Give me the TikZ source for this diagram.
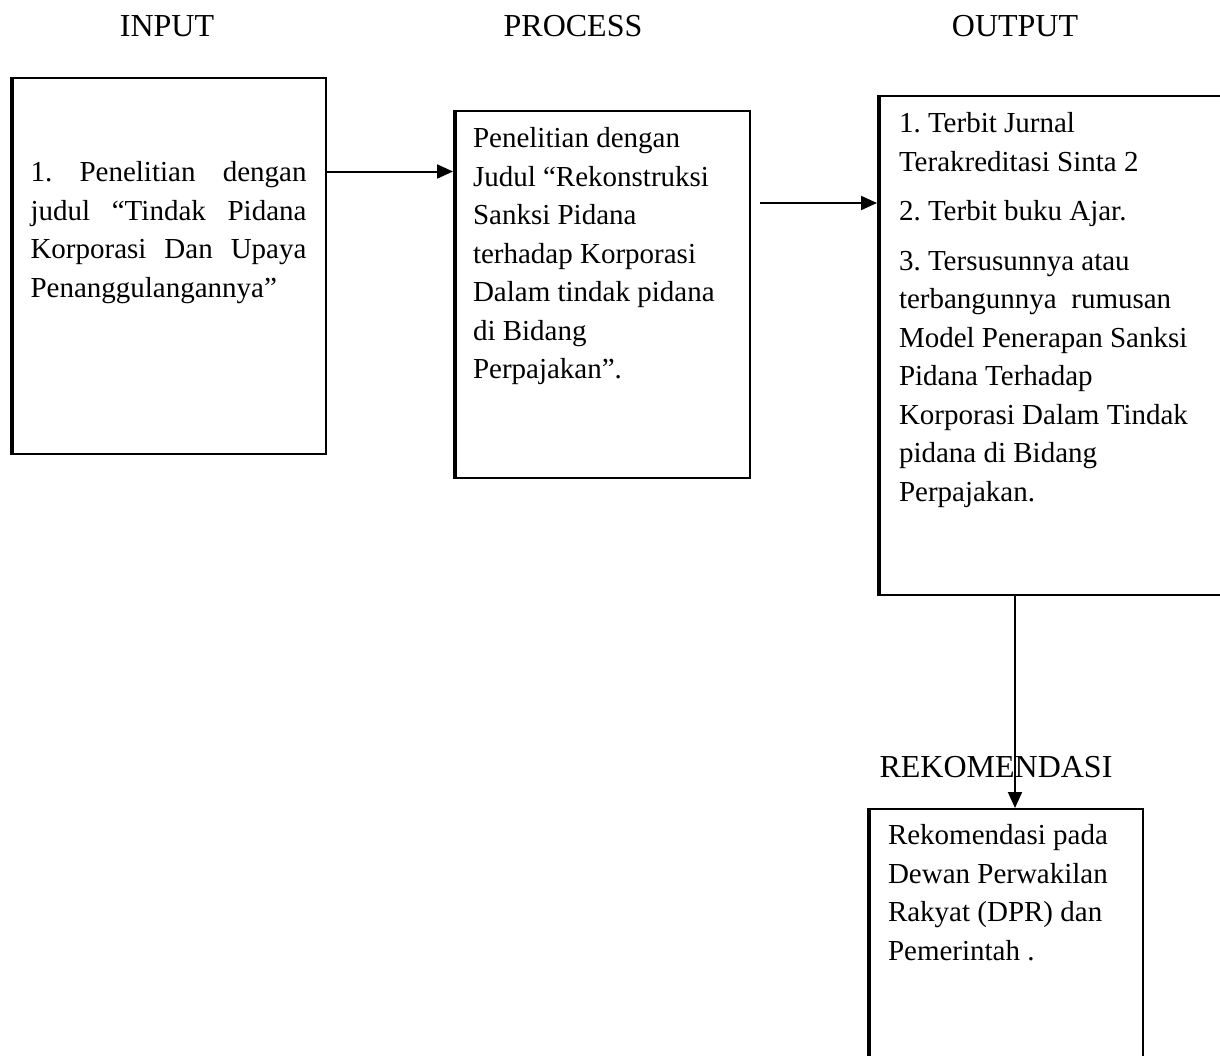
\documentclass[tikz,border=0pt]{standalone}
\usepackage{fontspec}
\setmainfont{Liberation Serif}
\usetikzlibrary{arrows.meta,calc}

\begin{document}
\begin{tikzpicture}[
  x=1pt, y=-1pt,
  line width=2pt,
  >={Triangle[length=16pt,width=14pt]},
  panel/.style={
    rectangle,
    draw,
    line width=2pt,
    inner ysep=0pt,
    anchor=north west,
    font=\fontsize{29}{38.5}\selectfont\frenchspacing,
    path picture={\draw[line width=6pt]
      (path picture bounding box.south west) -- (path picture bounding box.north west);}
  },
  heading/.style={
    anchor=base,
    inner sep=0pt,
    font=\fontsize{32}{38}\selectfont
  }
]
\useasboundingbox (0,0) rectangle (1220,1055);
\clip (0,0) rectangle (1220,1055);

\node[heading] (inhead) at (167,36) {INPUT};
\node[heading] (prochead) at (573,36) {PROCESS};
\node[heading] (outhead) at (1015,36) {OUTPUT};

\node[panel, inner xsep=19.5pt] (inp) at (10,77) {\parbox[t][376pt][t]{276pt}{\vspace*{77pt}\strut
1. Penelitian dengan\linebreak
judul “Tindak Pidana\linebreak
Korporasi Dan Upaya\linebreak
Penanggulangannya”}};

\node[panel, inner xsep=19pt] (proc) at (453,110) {\parbox[t][367pt][t]{258pt}{\vspace*{10pt}\strut
Penelitian dengan\\
Judul “Rekonstruksi\\
Sanksi Pidana\\
terhadap Korporasi\\
Dalam tindak pidana\\
di Bidang\\
Perpajakan”.}};

\node[panel, inner xsep=21pt] (outp) at (877,95) {\parbox[t][499pt][t]{328pt}{\vspace*{10pt}\strut
1. Terbit Jurnal\\
Terakreditasi Sinta 2\\[11pt]
2. Terbit buku Ajar.\\[11pt]
3. Tersusunnya atau\\
terbangunnya\ \ rumusan\\
Model Penerapan Sanksi\\
Pidana Terhadap\\
Korporasi Dalam Tindak\\
pidana di Bidang\\
Perpajakan.}};

\node[heading] (rekohead) at (996,777) {REKOMENDASI};

\node[panel, inner xsep=20pt] (reko) at (867,808) {\parbox[t][300pt][t]{235pt}{\vspace*{9pt}\strut
Rekomendasi pada\\
Dewan Perwakilan\\
Rakyat (DPR) dan\\
Pemerintah .}};

% Arrows
\coordinate (lvl) at ($(inp.north east)!0.25!(inp.south east)$);
\coordinate (gap) at (760,203);
\coordinate (drop) at (1015,0);
\draw[->] (lvl) -- (lvl -| proc.west);
\draw[->] (gap) -- (gap -| outp.west);
\draw[->] (drop |- outp.south) -- (drop |- reko.north);

\end{tikzpicture}
\end{document}
